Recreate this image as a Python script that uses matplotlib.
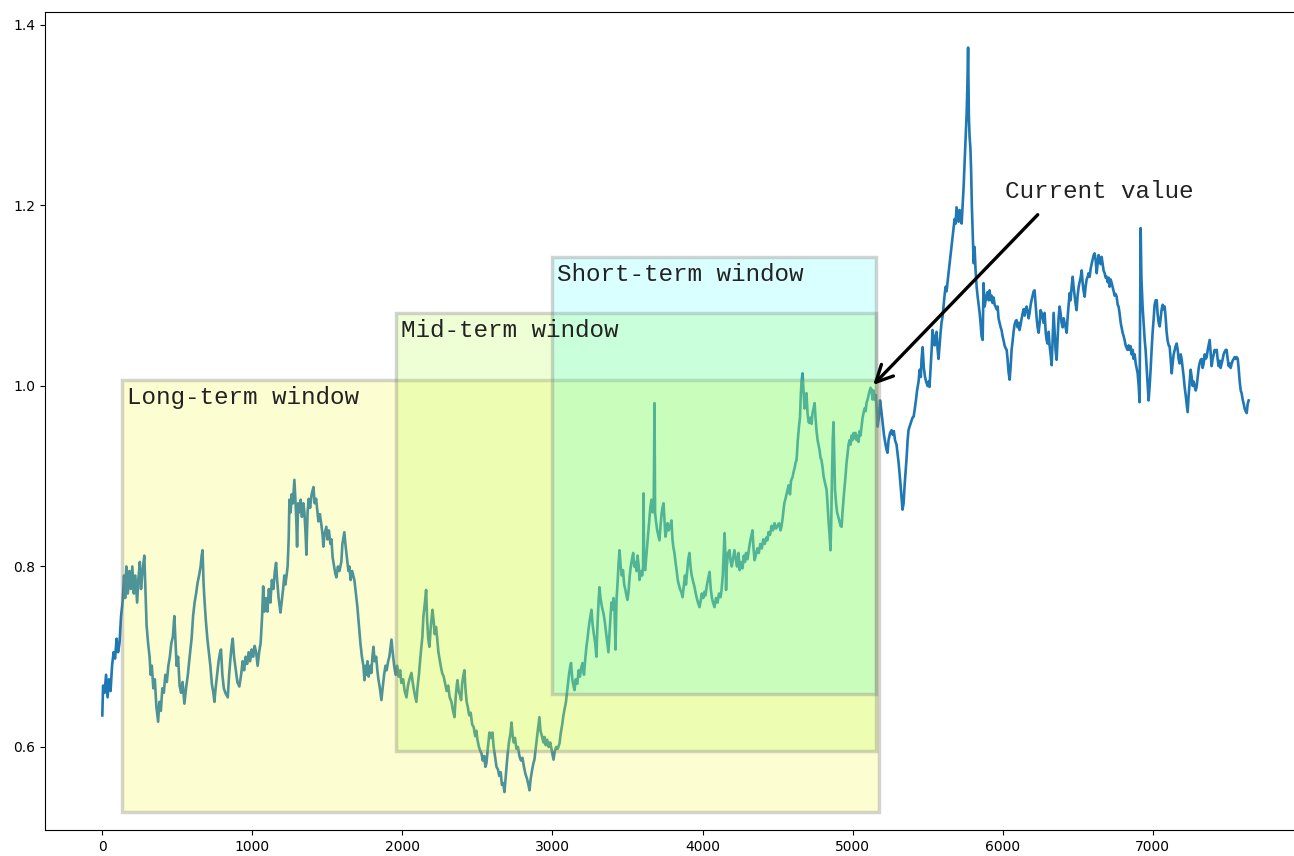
import matplotlib.pyplot as plt
from matplotlib.patches import Rectangle

# series values (index, value)
t = [
    0, 5, 15, 25, 35, 45, 55, 65, 75, 85, 95, 105, 115, 125, 135, 145, 152, 160, 170, 180,
    190, 200, 210, 220, 232, 240, 250, 258, 268, 280, 288, 295, 305, 315, 322, 330, 340, 350, 360, 372,
    380, 390, 400, 410, 420, 430, 440, 450, 460, 470, 480, 488, 495, 505, 515, 525, 535, 547, 558, 570,
    582, 595, 605, 615, 625, 635, 645, 655, 662, 668, 675, 682, 690, 700, 710, 720, 730, 740, 747, 755,
    765, 775, 785, 791, 800, 810, 820, 836, 845, 855, 862, 869, 878, 890, 900, 913, 925, 935, 945, 955,
    965, 975, 985, 995, 1005, 1015, 1025, 1035, 1045, 1055, 1065, 1072, 1080, 1090, 1100, 1110, 1120, 1130, 1140, 1150,
    1158, 1165, 1175, 1187, 1195, 1205, 1213, 1220, 1228, 1235, 1242, 1247, 1255, 1262, 1270, 1280, 1288, 1293, 1298, 1305,
    1313, 1322, 1330, 1340, 1347, 1355, 1360, 1368, 1375, 1385, 1395, 1407, 1415, 1425, 1433, 1440, 1450, 1460, 1468, 1473,
    1480, 1493, 1500, 1510, 1520, 1527, 1535, 1545, 1553, 1560, 1570, 1580, 1593, 1600, 1607, 1613, 1620, 1630, 1640, 1647,
    1655, 1665, 1680, 1690, 1700, 1710, 1720, 1730, 1740, 1747, 1755, 1760, 1767, 1775, 1785, 1793, 1800, 1807, 1815, 1825,
    1833, 1840, 1850, 1860, 1868, 1878, 1887, 1895, 1905, 1913, 1920, 1927, 1935, 1945, 1955, 1965, 1975, 1985, 1993, 2005,
    2015, 2027, 2037, 2047, 2060, 2070, 2080, 2093, 2100, 2110, 2120, 2127, 2133, 2140, 2150, 2158, 2165, 2172, 2180, 2190,
    2200, 2208, 2215, 2224, 2232, 2240, 2247, 2255, 2265, 2275, 2285, 2295, 2305, 2315, 2327, 2335, 2347, 2355, 2362, 2367,
    2375, 2383, 2391, 2398, 2405, 2413, 2420, 2428, 2435, 2445, 2455, 2465, 2475, 2485, 2493, 2500, 2510, 2518, 2527, 2535,
    2545, 2553, 2560, 2570, 2580, 2590, 2600, 2608, 2617, 2627, 2637, 2645, 2655, 2663, 2672, 2680, 2690, 2700, 2710, 2720,
    2727, 2735, 2742, 2750, 2760, 2770, 2780, 2790, 2800, 2810, 2820, 2830, 2840, 2847, 2855, 2865, 2873, 2880, 2890, 2900,
    2907, 2913, 2920, 2930, 2940, 2947, 2955, 2965, 2975, 2985, 2993, 3000, 3007, 3015, 3025, 3035, 3047, 3055, 3065, 3073,
    3080, 3090, 3100, 3110, 3117, 3124, 3132, 3140, 3147, 3155, 3165, 3175, 3183, 3192, 3200, 3210, 3220, 3227, 3233, 3240,
    3250, 3260, 3268, 3275, 3285, 3293, 3300, 3307, 3313, 3320, 3330, 3340, 3347, 3355, 3362, 3373, 3380, 3387, 3393, 3400,
    3407, 3413, 3420, 3427, 3435, 3441, 3447, 3455, 3462, 3470, 3478, 3485, 3493, 3500, 3507, 3515, 3522, 3530, 3538, 3545,
    3553, 3560, 3567, 3575, 3580, 3590, 3598, 3604, 3607, 3611, 3618, 3625, 3635, 3645, 3652, 3660, 3668, 3675, 3680, 3684,
    3690, 3698, 3705, 3713, 3720, 3727, 3733, 3740, 3747, 3753, 3760, 3767, 3775, 3785, 3793, 3800, 3807, 3813, 3820, 3828,
    3835, 3842, 3850, 3860, 3867, 3875, 3883, 3890, 3898, 3905, 3913, 3920, 3928, 3935, 3947, 3955, 3962, 3970, 3980, 3988,
    3995, 4005, 4013, 4020, 4030, 4040, 4047, 4055, 4063, 4070, 4080, 4090, 4100, 4110, 4120, 4127, 4135, 4141, 4147, 4152,
    4157, 4162, 4170, 4180, 4188, 4195, 4205, 4213, 4222, 4230, 4240, 4248, 4257, 4267, 4275, 4283, 4290, 4300, 4310, 4320,
    4327, 4333, 4340, 4347, 4355, 4365, 4375, 4385, 4395, 4405, 4415, 4425, 4433, 4440, 4450, 4460, 4470, 4480, 4490, 4500,
    4510, 4520, 4527, 4535, 4545, 4553, 4560, 4567, 4575, 4583, 4590, 4600, 4607, 4615, 4620, 4627, 4635, 4643, 4650, 4655,
    4660, 4667, 4673, 4680, 4687, 4693, 4700, 4707, 4713, 4720, 4727, 4733, 4740, 4747, 4753, 4760, 4767, 4773, 4780, 4787,
    4793, 4800, 4807, 4813, 4820, 4827, 4833, 4840, 4847, 4853, 4858, 4863, 4868, 4873, 4878, 4883, 4890, 4897, 4905, 4913,
    4920, 4927, 4933, 4940, 4947, 4953, 4960, 4967, 4973, 4980, 4987, 4993, 5000, 5007, 5013, 5020, 5027, 5033, 5040, 5047,
    5053, 5060, 5067, 5073, 5080, 5087, 5093, 5100, 5107, 5113, 5120, 5127, 5133, 5140, 5147, 5155, 5160, 5167, 5175, 5183,
    5190, 5200, 5210, 5220, 5227, 5233, 5240, 5250, 5260, 5267, 5275, 5283, 5293, 5300, 5307, 5313, 5320, 5327, 5333, 5340,
    5347, 5353, 5360, 5367, 5373, 5380, 5390, 5400, 5407, 5415, 5423, 5430, 5440, 5447, 5455, 5460, 5467, 5475, 5483, 5490,
    5500, 5507, 5513, 5520, 5527, 5533, 5540, 5547, 5553, 5560, 5567, 5573, 5580, 5587, 5593, 5600, 5607, 5613, 5620, 5627,
    5633, 5640, 5647, 5653, 5660, 5667, 5673, 5680, 5687, 5693, 5700, 5707, 5713, 5720, 5727, 5733, 5740, 5747, 5753, 5760,
    5765, 5770, 5775, 5780, 5785, 5790, 5795, 5800, 5807, 5813, 5820, 5827, 5833, 5840, 5847, 5853, 5860, 5867, 5873, 5880,
    5887, 5893, 5900, 5907, 5913, 5920, 5927, 5933, 5940, 5947, 5953, 5960, 5967, 5973, 5980, 5987, 5993, 6000, 6007, 6013,
    6020, 6027, 6033, 6040, 6047, 6053, 6060, 6067, 6073, 6080, 6087, 6093, 6100, 6107, 6113, 6120, 6127, 6133, 6140, 6147,
    6153, 6160, 6167, 6173, 6180, 6187, 6193, 6200, 6207, 6213, 6220, 6227, 6233, 6240, 6247, 6253, 6260, 6267, 6273, 6280,
    6287, 6293, 6300, 6307, 6313, 6320, 6327, 6333, 6340, 6347, 6353, 6360, 6367, 6373, 6380, 6387, 6393, 6400, 6407, 6413,
    6420, 6427, 6433, 6440, 6447, 6453, 6460, 6467, 6473, 6480, 6487, 6493, 6500, 6507, 6513, 6520, 6527, 6533, 6540, 6547,
    6553, 6560, 6567, 6573, 6580, 6587, 6593, 6600, 6607, 6613, 6620, 6627, 6633, 6640, 6647, 6653, 6660, 6667, 6673, 6680,
    6687, 6693, 6700, 6707, 6713, 6720, 6727, 6733, 6740, 6747, 6753, 6760, 6767, 6773, 6780, 6787, 6793, 6800, 6807, 6813,
    6820, 6827, 6833, 6840, 6847, 6853, 6860, 6867, 6873, 6880, 6887, 6893, 6900, 6907, 6913, 6917, 6920, 6925, 6933, 6940,
    6947, 6953, 6960, 6967, 6973, 6980, 6987, 6993, 7000, 7007, 7013, 7020, 7027, 7033, 7040, 7047, 7053, 7060, 7067, 7073,
    7080, 7087, 7093, 7100, 7107, 7113, 7120, 7127, 7133, 7140, 7147, 7153, 7160, 7167, 7173, 7180, 7187, 7193, 7200, 7207,
    7213, 7220, 7227, 7233, 7240, 7247, 7253, 7260, 7267, 7273, 7280, 7287, 7293, 7300, 7307, 7313, 7320, 7327, 7333, 7340,
    7347, 7353, 7360, 7367, 7373, 7380, 7387, 7393, 7400, 7407, 7413, 7420, 7427, 7433, 7440, 7447, 7453, 7460, 7467, 7473,
    7480, 7487, 7493, 7500, 7507, 7513, 7520, 7527, 7533, 7540, 7547, 7553, 7560, 7567, 7573, 7580, 7587, 7593, 7600, 7607,
    7613, 7620, 7627, 7633, 7640,
]
value = [
    0.635, 0.668, 0.660, 0.680, 0.655, 0.675, 0.662, 0.690, 0.705, 0.698, 0.720, 0.705, 0.716, 0.745, 0.760, 0.790, 0.765, 0.800, 0.770, 0.795,
    0.775, 0.800, 0.770, 0.790, 0.760, 0.785, 0.805, 0.775, 0.795, 0.812, 0.770, 0.735, 0.715, 0.700, 0.680, 0.690, 0.665, 0.675, 0.645, 0.628,
    0.650, 0.640, 0.665, 0.660, 0.680, 0.672, 0.690, 0.700, 0.715, 0.722, 0.745, 0.715, 0.690, 0.700, 0.668, 0.660, 0.672, 0.648, 0.665, 0.680,
    0.700, 0.720, 0.745, 0.760, 0.770, 0.782, 0.790, 0.800, 0.812, 0.818, 0.780, 0.760, 0.740, 0.720, 0.705, 0.690, 0.670, 0.660, 0.650, 0.665,
    0.680, 0.695, 0.705, 0.708, 0.680, 0.665, 0.660, 0.655, 0.680, 0.700, 0.712, 0.720, 0.700, 0.685, 0.672, 0.667, 0.680, 0.695, 0.685, 0.700,
    0.692, 0.705, 0.695, 0.708, 0.700, 0.712, 0.705, 0.690, 0.705, 0.715, 0.745, 0.778, 0.750, 0.765, 0.750, 0.775, 0.760, 0.785, 0.775, 0.795,
    0.804, 0.785, 0.765, 0.749, 0.760, 0.775, 0.790, 0.780, 0.790, 0.800, 0.830, 0.874, 0.860, 0.880, 0.870, 0.896, 0.870, 0.850, 0.822, 0.870,
    0.860, 0.874, 0.855, 0.870, 0.860, 0.835, 0.813, 0.860, 0.875, 0.865, 0.880, 0.888, 0.870, 0.875, 0.862, 0.850, 0.858, 0.846, 0.835, 0.822,
    0.835, 0.844, 0.830, 0.840, 0.825, 0.830, 0.810, 0.800, 0.792, 0.788, 0.800, 0.795, 0.805, 0.825, 0.832, 0.838, 0.825, 0.810, 0.795, 0.800,
    0.785, 0.795, 0.785, 0.770, 0.755, 0.735, 0.715, 0.700, 0.690, 0.674, 0.690, 0.680, 0.695, 0.678, 0.690, 0.682, 0.700, 0.711, 0.695, 0.700,
    0.685, 0.675, 0.665, 0.652, 0.665, 0.680, 0.690, 0.685, 0.695, 0.700, 0.710, 0.719, 0.705, 0.690, 0.680, 0.690, 0.678, 0.685, 0.671, 0.675,
    0.662, 0.655, 0.668, 0.675, 0.682, 0.670, 0.660, 0.650, 0.665, 0.680, 0.700, 0.712, 0.722, 0.745, 0.760, 0.774, 0.740, 0.720, 0.711, 0.735,
    0.752, 0.740, 0.725, 0.733, 0.720, 0.705, 0.698, 0.690, 0.682, 0.678, 0.670, 0.662, 0.668, 0.655, 0.650, 0.642, 0.633, 0.655, 0.668, 0.674,
    0.662, 0.658, 0.652, 0.670, 0.678, 0.685, 0.665, 0.650, 0.645, 0.635, 0.638, 0.625, 0.622, 0.612, 0.618, 0.608, 0.600, 0.596, 0.593, 0.585,
    0.590, 0.578, 0.582, 0.600, 0.616, 0.610, 0.616, 0.600, 0.590, 0.578, 0.575, 0.568, 0.572, 0.558, 0.560, 0.550, 0.570, 0.590, 0.605, 0.615,
    0.627, 0.612, 0.605, 0.610, 0.598, 0.600, 0.590, 0.585, 0.588, 0.578, 0.570, 0.565, 0.558, 0.552, 0.565, 0.575, 0.582, 0.586, 0.600, 0.615,
    0.625, 0.633, 0.618, 0.612, 0.605, 0.611, 0.602, 0.608, 0.600, 0.605, 0.598, 0.592, 0.586, 0.595, 0.600, 0.598, 0.604, 0.615, 0.625, 0.635,
    0.641, 0.650, 0.665, 0.680, 0.688, 0.693, 0.675, 0.668, 0.663, 0.675, 0.670, 0.685, 0.678, 0.688, 0.693, 0.680, 0.700, 0.712, 0.719, 0.730,
    0.742, 0.752, 0.735, 0.726, 0.715, 0.700, 0.735, 0.760, 0.777, 0.765, 0.755, 0.748, 0.741, 0.730, 0.720, 0.705, 0.725, 0.745, 0.760, 0.752,
    0.765, 0.755, 0.708, 0.763, 0.785, 0.805, 0.818, 0.800, 0.790, 0.796, 0.780, 0.775, 0.768, 0.763, 0.772, 0.790, 0.800, 0.808, 0.815, 0.800,
    0.805, 0.795, 0.812, 0.800, 0.785, 0.795, 0.790, 0.800, 0.881, 0.800, 0.796, 0.810, 0.830, 0.850, 0.865, 0.874, 0.860, 0.870, 0.981, 0.859,
    0.850, 0.840, 0.835, 0.829, 0.845, 0.858, 0.865, 0.870, 0.850, 0.833, 0.840, 0.848, 0.840, 0.845, 0.851, 0.830, 0.820, 0.815, 0.805, 0.795,
    0.785, 0.780, 0.775, 0.771, 0.766, 0.778, 0.790, 0.780, 0.795, 0.808, 0.815, 0.800, 0.790, 0.785, 0.777, 0.770, 0.765, 0.760, 0.755, 0.762,
    0.770, 0.765, 0.772, 0.768, 0.780, 0.788, 0.794, 0.775, 0.765, 0.760, 0.755, 0.765, 0.760, 0.770, 0.766, 0.774, 0.790, 0.815, 0.837, 0.815,
    0.774, 0.800, 0.815, 0.818, 0.805, 0.800, 0.810, 0.818, 0.808, 0.800, 0.815, 0.796, 0.805, 0.798, 0.812, 0.805, 0.815, 0.808, 0.820, 0.830,
    0.835, 0.840, 0.820, 0.807, 0.812, 0.820, 0.815, 0.825, 0.820, 0.830, 0.825, 0.832, 0.829, 0.838, 0.835, 0.845, 0.840, 0.848, 0.842, 0.845,
    0.848, 0.840, 0.845, 0.855, 0.870, 0.875, 0.880, 0.885, 0.890, 0.880, 0.895, 0.899, 0.905, 0.910, 0.915, 0.918, 0.940, 0.955, 0.966, 0.990,
    1.005, 1.014, 0.995, 0.975, 0.985, 0.992, 0.970, 0.960, 0.959, 0.965, 0.958, 0.970, 0.975, 0.981, 0.965, 0.950, 0.940, 0.935, 0.929, 0.920,
    0.918, 0.910, 0.900, 0.895, 0.890, 0.885, 0.870, 0.850, 0.835, 0.818, 0.850, 0.900, 0.940, 0.960, 0.920, 0.885, 0.870, 0.860, 0.855, 0.850,
    0.845, 0.844, 0.860, 0.875, 0.888, 0.900, 0.915, 0.925, 0.935, 0.940, 0.935, 0.945, 0.940, 0.948, 0.942, 0.948, 0.940, 0.945, 0.938, 0.950,
    0.945, 0.955, 0.965, 0.970, 0.975, 0.972, 0.981, 0.985, 0.990, 0.994, 0.998, 0.996, 0.985, 0.995, 0.985, 0.990, 0.975, 0.955, 0.965, 0.984,
    0.975, 0.960, 0.945, 0.935, 0.929, 0.926, 0.940, 0.948, 0.951, 0.946, 0.950, 0.940, 0.935, 0.925, 0.915, 0.904, 0.890, 0.875, 0.863, 0.870,
    0.890, 0.904, 0.920, 0.940, 0.951, 0.955, 0.960, 0.965, 0.966, 0.975, 0.985, 0.995, 1.005, 1.018, 1.010, 1.030, 1.043, 1.020, 1.010, 1.005,
    1.000, 1.005, 0.999, 1.020, 1.040, 1.062, 1.050, 1.045, 1.055, 1.060, 1.040, 1.030, 1.045, 1.060, 1.070, 1.077, 1.090, 1.100, 1.110, 1.105,
    1.115, 1.125, 1.136, 1.145, 1.155, 1.165, 1.175, 1.185, 1.180, 1.198, 1.190, 1.182, 1.195, 1.185, 1.180, 1.198, 1.220, 1.250, 1.273, 1.300,
    1.330, 1.375, 1.300, 1.276, 1.265, 1.240, 1.200, 1.173, 1.136, 1.154, 1.128, 1.110, 1.100, 1.090, 1.081, 1.070, 1.055, 1.051, 1.114, 1.088,
    1.095, 1.100, 1.104, 1.095, 1.106, 1.095, 1.100, 1.092, 1.098, 1.090, 1.088, 1.085, 1.088, 1.075, 1.070, 1.065, 1.062, 1.055, 1.050, 1.045,
    1.042, 1.040, 1.030, 1.015, 1.007, 1.020, 1.040, 1.050, 1.060, 1.068, 1.072, 1.073, 1.065, 1.070, 1.062, 1.068, 1.075, 1.080, 1.085, 1.078,
    1.085, 1.088, 1.082, 1.075, 1.081, 1.090, 1.095, 1.100, 1.105, 1.106, 1.090, 1.075, 1.065, 1.059, 1.070, 1.084, 1.081, 1.075, 1.070, 1.081,
    1.060, 1.051, 1.047, 1.060, 1.045, 1.035, 1.023, 1.050, 1.081, 1.060, 1.040, 1.029, 1.055, 1.075, 1.088, 1.080, 1.070, 1.065, 1.075, 1.070,
    1.065, 1.059, 1.075, 1.090, 1.103, 1.095, 1.110, 1.121, 1.110, 1.100, 1.090, 1.084, 1.100, 1.110, 1.115, 1.120, 1.128, 1.115, 1.105, 1.099,
    1.110, 1.118, 1.121, 1.125, 1.121, 1.130, 1.135, 1.140, 1.145, 1.147, 1.140, 1.125, 1.135, 1.145, 1.140, 1.135, 1.143, 1.135, 1.128, 1.125,
    1.120, 1.121, 1.115, 1.120, 1.110, 1.118, 1.114, 1.110, 1.105, 1.100, 1.102, 1.099, 1.090, 1.088, 1.080, 1.070, 1.065, 1.059, 1.055, 1.051,
    1.045, 1.042, 1.040, 1.045, 1.040, 1.044, 1.035, 1.040, 1.030, 1.035, 1.025, 1.020, 1.014, 1.000, 0.982, 1.100, 1.175, 1.120, 1.088, 1.070,
    1.051, 1.040, 1.020, 1.000, 0.984, 1.000, 1.020, 1.040, 1.060, 1.075, 1.090, 1.095, 1.095, 1.080, 1.070, 1.066, 1.075, 1.085, 1.090, 1.085,
    1.088, 1.075, 1.060, 1.050, 1.045, 1.044, 1.030, 1.014, 1.025, 1.035, 1.040, 1.044, 1.047, 1.040, 1.030, 1.025, 1.035, 1.030, 1.020, 1.010,
    0.999, 0.990, 0.980, 0.971, 0.990, 1.005, 1.018, 1.010, 1.000, 1.005, 1.000, 0.995, 0.999, 1.010, 1.020, 1.025, 1.029, 1.030, 1.020, 1.025,
    1.035, 1.030, 1.032, 1.040, 1.045, 1.051, 1.035, 1.022, 1.030, 1.035, 1.040, 1.038, 1.040, 1.030, 1.022, 1.028, 1.020, 1.025, 1.030, 1.035,
    1.038, 1.040, 1.040, 1.030, 1.022, 1.025, 1.020, 1.025, 1.028, 1.030, 1.032, 1.030, 1.032, 1.030, 1.020, 1.005, 0.995, 0.992, 0.985, 0.980,
    0.975, 0.972, 0.970, 0.980, 0.984,
]

# look-back windows drawn over the series
window_names = ["Long-term window", "Mid-term window", "Short-term window"]
window_start = [133, 1960, 3000]
window_end = [5175, 5158, 5158]
window_low = [0.528, 0.595, 0.659]
window_high = [1.007, 1.081, 1.143]
window_fill = [(0.97, 0.98, 0.2, 0.22), (0.68, 1.0, 0.18, 0.2), (0.0, 1.0, 1.0, 0.15)]

current_t = 5125
current_value = 0.999

fig = plt.figure(figsize=(12.94, 8.56), dpi=100)
# right spine falls just outside the picture, as in the cropped reference
ax = fig.add_axes([45 / 1294, 26 / 856, 1261 / 1294, 818 / 856])

ax.plot(t, value, color="#1f77b4", lw=1.9, zorder=1)

for name, x0, x1, y0, y1, fill in zip(
    window_names, window_start, window_end, window_low, window_high, window_fill
):
    ax.add_patch(
        Rectangle(
            (x0, y0), x1 - x0, y1 - y0,
            facecolor=fill, edgecolor=(0.45, 0.45, 0.45, 0.3), lw=2.5, zorder=2,
        )
    )
    ax.text(
        x0 + 30, y1 - 0.02, name, family="Liberation Mono", fontsize=17.5,
        va="center", ha="left", color="#222222", zorder=3,
    )

ax.text(
    6013, 1.215, "Current value", family="Liberation Mono", fontsize=17.5,
    va="center", ha="left", color="#222222",
)
ax.annotate(
    "", xy=(current_t, current_value), xytext=(6247, 1.192),
    arrowprops=dict(arrowstyle="->", lw=2.4, color="black", mutation_scale=30),
)

ax.set_xlim(-382, 8022)
ax.set_ylim(0.508, 1.4144)
ax.set_xticks(range(0, 8000, 1000))
ax.set_yticks([0.6, 0.8, 1.0, 1.2, 1.4])

fig.savefig("out.png", dpi=100)
